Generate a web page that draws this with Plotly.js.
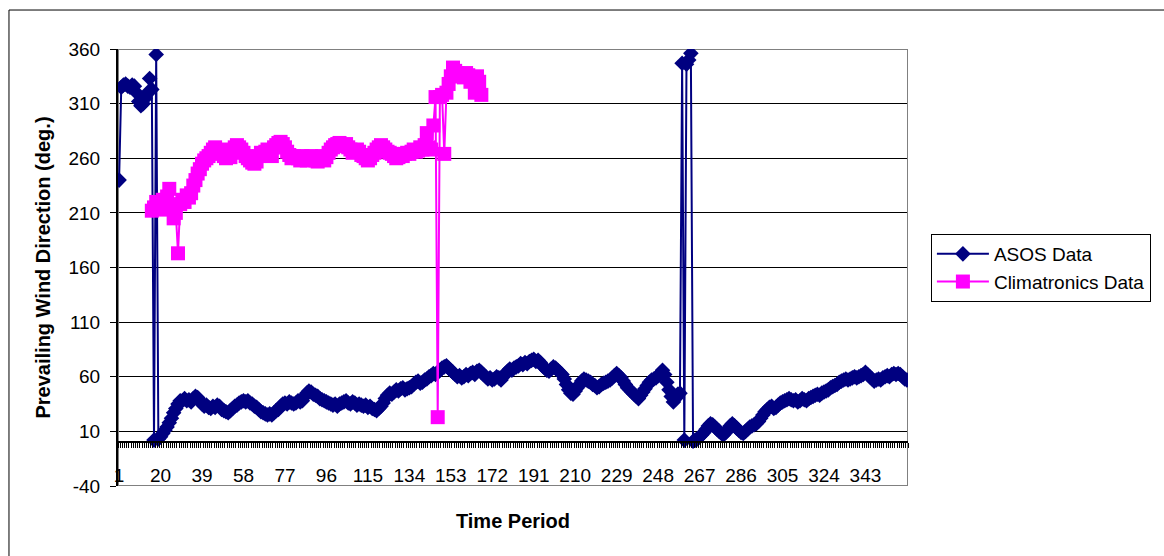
<!DOCTYPE html>
<html>
<head>
<meta charset="utf-8">
<script src="https://cdn.plot.ly/plotly-3.0.1.min.js"></script>
<style>
html,body{margin:0;padding:0;background:#fff;}
#chart{width:1164px;height:556px;}
</style>
</head>
<body>
<div id="chart"></div>
<script>
// ASOS data: one value per time period, 1..362
const asosValues = [
240,325,327,328,326,325,327,326,320,312,308,310,315,320,333,323,2,355,3,5,
8,11,14,18,22,27,31,35,38,38,40,38,39,37,40,42,41,38,35,33,
34,32,31,33,32,34,33,30,29,28,27,29,31,33,34,36,37,38,37,38,
36,35,33,32,30,28,27,26,25,26,25,27,29,30,33,35,36,35,37,36,
35,36,38,37,38,42,45,47,46,44,43,42,40,39,38,37,36,35,34,35,
33,35,36,37,38,36,35,37,36,34,35,34,33,34,32,33,31,30,29,31,
33,36,40,43,45,44,46,48,47,49,50,48,49,50,51,53,55,56,54,55,
57,58,60,61,63,62,64,66,68,69,70,68,66,64,62,60,61,59,60,62,
61,63,64,62,65,66,64,62,60,58,59,57,58,60,59,57,60,63,65,67,
66,68,69,70,72,71,73,72,74,75,76,74,75,73,70,68,66,65,67,69,
68,66,64,62,58,53,48,45,44,47,50,53,56,58,57,56,55,53,52,50,
51,53,54,55,56,57,59,61,63,61,59,56,53,50,48,46,44,42,40,43,
46,49,52,55,57,58,59,61,63,66,62,55,48,42,37,40,44,45,347,2,
346,350,356,1,2,3,5,7,9,12,15,17,16,14,12,10,8,7,9,12,
15,17,15,13,11,9,8,10,12,14,15,16,17,19,22,25,28,30,32,33,
31,32,34,36,37,38,39,40,39,38,39,37,38,40,39,38,40,41,42,43,
44,43,45,46,47,48,50,51,52,53,55,56,57,58,57,58,59,60,59,60,
61,62,64,62,60,58,56,57,58,57,59,60,61,60,62,63,62,63,62,60,
58,57
];
// Climatronics data: time periods 16..168
const climStart = 16;
const climValues = [
212,215,220,218,213,222,218,225,232,215,205,210,173,218,222,220,226,224,228,235,
240,246,250,255,258,260,262,265,268,270,267,264,268,262,260,263,261,266,270,272,
270,268,265,262,260,258,256,255,257,262,265,263,266,268,265,262,270,272,274,275,
273,270,266,263,260,262,261,260,258,262,260,258,259,262,260,258,257,260,262,258,
261,265,268,270,272,273,274,272,271,273,270,268,265,266,268,266,263,262,260,258,
260,263,265,268,270,272,270,268,266,265,264,262,260,261,263,262,264,265,264,266,
268,266,267,270,268,272,283,270,268,290,316,23,316,318,264,320,328,335,343,340,
338,335,337,334,338,336,330,334,320,335,330,318
];
const xTickVals = [1,20,39,58,77,96,115,134,153,172,191,210,229,248,267,286,305,324,343];
const yTickVals = [-40,10,60,110,160,210,260,310,360];

const asosX = asosValues.map((v,i)=>i+1);
const climX = climValues.map((v,i)=>i+climStart);

const FONT = 'Arial, "Liberation Sans", sans-serif';

const traces = [
  {
    x: asosX, y: asosValues, name: 'ASOS Data', type: 'scatter', mode: 'lines+markers',
    line: {color:'#000080', width:2},
    marker: {symbol:'diamond', size:12, color:'#000080'}
  },
  {
    x: climX, y: climValues, name: 'Climatronics Data', type: 'scatter', mode: 'lines+markers',
    line: {color:'#FF00FF', width:2},
    marker: {symbol:'square', size:14, color:'#FF00FF'}
  }
];

const N = asosValues.length;

const layout = {
  width: 1164, height: 556, autosize: false,
  paper_bgcolor: '#fff', plot_bgcolor: '#fff',
  margin: {l:118, r:256, t:49, b:70},
  font: {family: FONT, size: 19, color:'#000'},
  showlegend: true,
  legend: {
    x: 1.029, y: 0.5767, xanchor:'left', yanchor:'top',
    bordercolor:'#000', borderwidth:1, bgcolor:'#fff',
    font:{family:FONT, size:19, color:'#000'},
    itemwidth: 52
  },
  xaxis: {
    range: [0.5, N+0.5],
    anchor: 'free', position: 0.1,
    showgrid: false, zeroline: false,
    showline: true, linecolor:'#000', linewidth:2,
    tickmode:'array', tickvals: xTickVals, ticktext: xTickVals.map(String),
    ticks: '',
    ticklabelstandoff: 16,
    tickfont:{family:FONT, size:19, color:'#000'},
    minor: {tickmode:'linear', tick0:0.5, dtick:1, ticks:'outside', ticklen:5, tickcolor:'#000', tickwidth:1, showgrid:false},
    title: {text:'<b>Time Period</b>', font:{family:FONT, size:20, color:'#000'}, standoff: 28}
  },
  yaxis: {
    range: [-40, 360], domain:[0,1],
    tickmode:'array', tickvals: yTickVals, ticktext: yTickVals.map(String),
    showgrid: true, gridcolor:'#000', gridwidth:1,
    zeroline: false,
    showline: true, linecolor:'#000', linewidth:2,
    ticks:'outside', ticklen:6, tickcolor:'#000',
    ticklabelstandoff: 6,
    tickfont:{family:FONT, size:19, color:'#000'},
    title: {text:'<b>Prevailing Wind Direction (deg.)</b>', font:{family:FONT, size:20, color:'#000'}, standoff: 12}
  },
  shapes: [
    {type:'rect', xref:'x', yref:'y', x0:0.5, x1:N+0.5, y0:-40, y1:360,
     line:{color:'#808080', width:2}, fillcolor:'rgba(0,0,0,0)', layer:'between'},
    {type:'line', xref:'paper', yref:'paper', x0:-0.138, x1:-0.138, y0:-0.25, y1:1.0892,
     line:{color:'#000', width:1}},
    {type:'line', xref:'paper', yref:'paper', x0:-0.138, x1:1.5, y0:1.0892, y1:1.0892,
     line:{color:'#000', width:1}}
  ]
};

Plotly.newPlot('chart', traces, layout, {displayModeBar:false, staticPlot:true});
</script>
</body>
</html>
